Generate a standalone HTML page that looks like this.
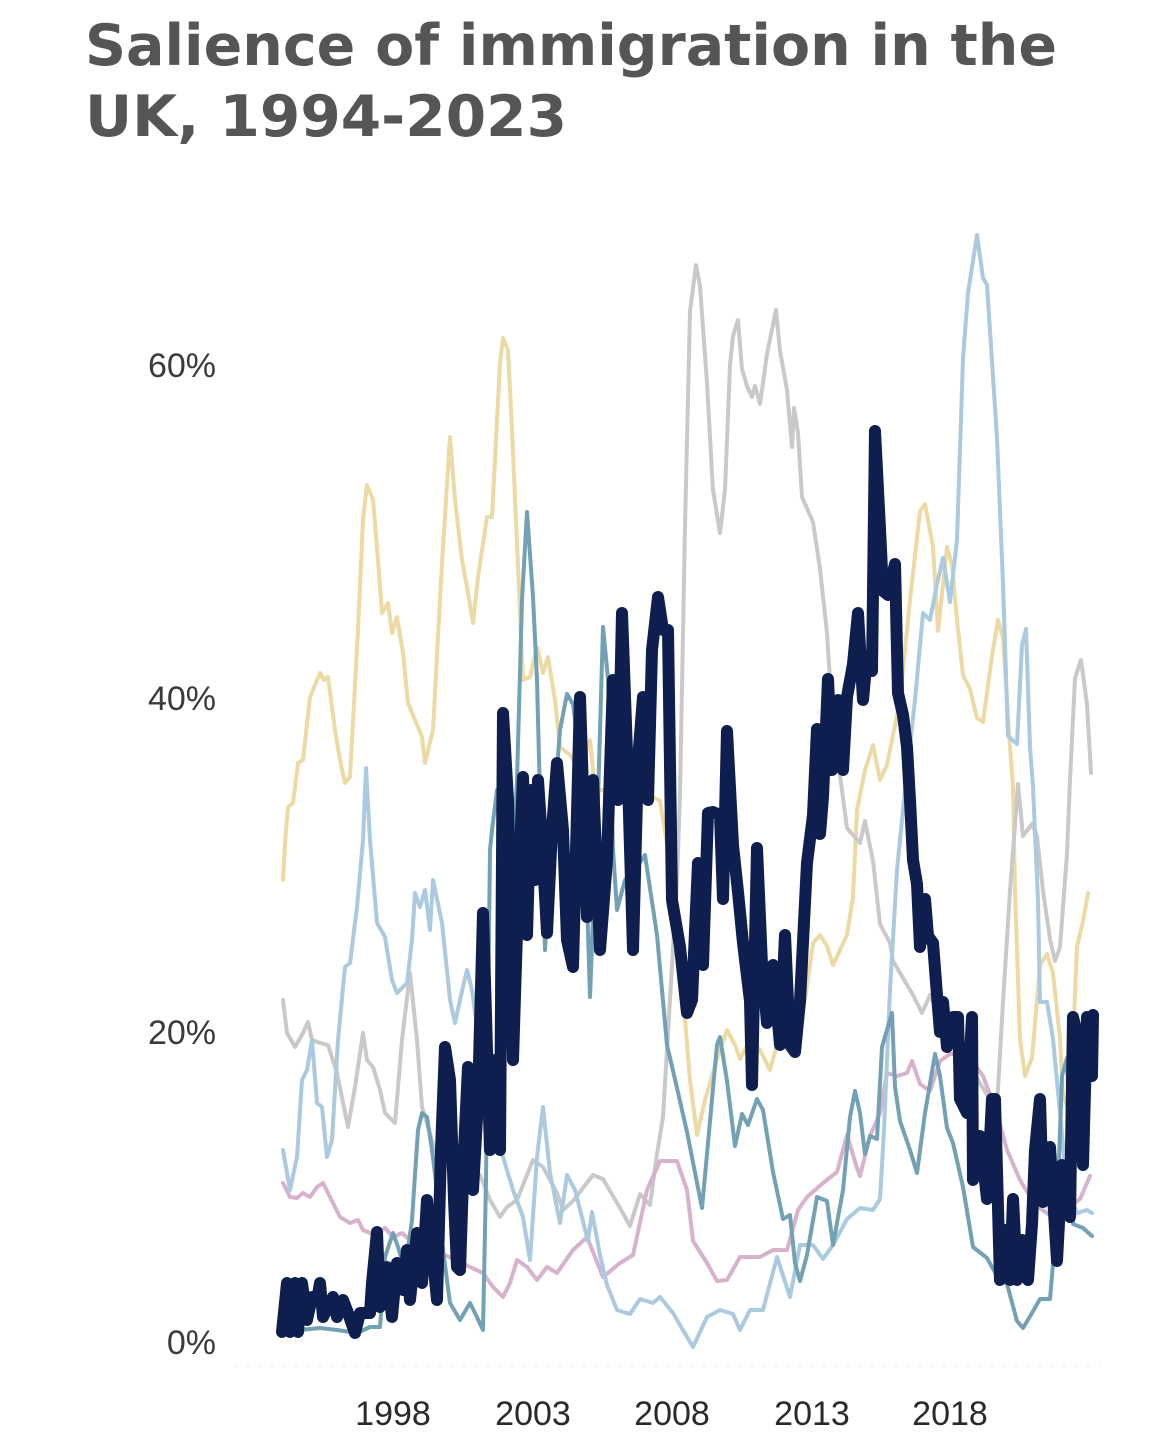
<!DOCTYPE html>
<html>
<head>
<meta charset="utf-8">
<style>
  html, body { margin:0; padding:0; background:#ffffff; }
  body { width:1170px; height:1454px; overflow:hidden; }
  svg { display:block; }
</style>
</head>
<body>
<svg width="1170" height="1454" viewBox="0 0 1170 1454" xmlns="http://www.w3.org/2000/svg">
  <rect width="1170" height="1454" fill="#ffffff"/>
  <!-- Title -->
  <text x="85" y="65" font-family="'DejaVu Sans','Liberation Sans',sans-serif" font-weight="bold" font-size="57" fill="#555555" textLength="972" lengthAdjust="spacingAndGlyphs">Salience of immigration in the</text>
  <text x="85" y="136" font-family="'DejaVu Sans','Liberation Sans',sans-serif" font-weight="bold" font-size="57" fill="#555555" textLength="482" lengthAdjust="spacingAndGlyphs">UK, 1994-2023</text>

  <!-- Y axis labels -->
  <g font-family="'Liberation Sans',sans-serif" font-size="34" fill="#3a3a3a" text-anchor="end">
    <text x="216" y="377">60%</text>
    <text x="216" y="710">40%</text>
    <text x="216" y="1044">20%</text>
    <text x="216" y="1354">0%</text>
  </g>

  <!-- faint x axis -->
  <line x1="235" y1="1366" x2="1100" y2="1366" stroke="#f0f0f0" stroke-width="3" stroke-dasharray="2,10"/>

  <!-- X axis labels -->
  <g font-family="'Liberation Sans',sans-serif" font-size="34" fill="#2a2a2a" text-anchor="middle">
    <text x="393" y="1425">1998</text>
    <text x="533" y="1425">2003</text>
    <text x="672" y="1425">2008</text>
    <text x="812" y="1425">2013</text>
    <text x="950" y="1425">2018</text>
  </g>

  <g fill="none" stroke-linejoin="round" stroke-linecap="round">
    <!-- Gold -->
    <polyline stroke="#ecd9a4" stroke-width="4" points="283,880 285,843 288,807 293,803 298,763 303,760 310,697 315,685 320,673 324,680 328,677 335,730 340,760 345,783 350,777 358,630 363,520 367,485 373,500 378,560 382,613 388,603 392,633 397,617 403,653 408,703 415,720 422,737 425,763 433,730 442,563 450,437 455,500 462,560 467,587 473,623 478,577 487,517 492,517 500,363 503,338 508,350 512,430 517,543 523,680 530,677 537,647 543,673 548,657 555,700 560,747 570,755 580,770 590,740 595,790 610,790 625,780 640,800 653,797 660,801 670,863 680,960 690,1080 697,1135 705,1100 717,1059 727,1030 735,1045 740,1059 750,1040 760,1050 770,1070 777,1045 793,1045 805,1000 813,943 820,935 827,946 833,965 840,950 847,935 853,897 857,810 865,770 873,745 880,780 887,765 900,700 910,600 920,511 925,504 933,547 938,631 947,547 952,565 957,620 963,675 970,689 977,718 983,722 992,656 998,620 1003,638 1010,747 1013,787 1015,891 1020,1039 1025,1076 1032,1058 1040,965 1047,954 1053,973 1060,1039 1063,1095 1070,1113 1077,947 1083,921 1088,893"/>
    <!-- Gray -->
    <polyline stroke="#c9c9c9" stroke-width="4" points="283,1000 287,1033 295,1047 303,1033 308,1022 312,1040 320,1043 328,1045 337,1073 348,1127 355,1087 363,1033 367,1060 373,1067 380,1090 385,1113 395,1123 402,1040 410,973 417,1040 422,1107 435,1150 450,1170 465,1160 480,1175 490,1200 500,1217 507,1207 517,1200 533,1160 543,1167 557,1193 563,1210 573,1201 593,1175 603,1179 620,1208 630,1226 640,1194 650,1205 657,1154 663,1117 670,1000 677,880 680,794 685,526 690,311 696,265 700,286 707,383 713,490 720,533 725,490 730,365 733,336 738,320 742,369 747,386 752,397 755,386 760,404 767,354 776,310 780,351 787,390 792,447 794,408 798,433 802,497 813,522 820,569 827,633 830,679 838,760 847,828 860,843 865,821 873,861 880,924 890,943 893,961 913,995 922,1013 930,995 945,1030 960,1050 975,1075 990,1100 997,1106 1003,1002 1010,891 1018,784 1023,836 1032,824 1037,836 1043,891 1050,939 1055,961 1060,947 1067,854 1070,780 1075,678 1081,660 1087,704 1091,773"/>
    <!-- Pink -->
    <polyline stroke="#d8b1cc" stroke-width="4" points="283,1183 290,1197 297,1198 303,1193 310,1197 317,1187 323,1183 330,1197 340,1217 350,1223 358,1220 363,1230 370,1233 377,1233 385,1228 393,1237 402,1233 410,1240 430,1245 445,1255 460,1262 470,1267 483,1273 493,1287 503,1297 510,1283 517,1260 527,1267 537,1280 547,1267 557,1273 573,1250 587,1237 603,1277 620,1263 633,1255 647,1190 660,1161 677,1161 687,1190 693,1241 707,1263 717,1281 727,1280 740,1257 760,1257 773,1250 787,1250 798,1210 807,1197 823,1183 837,1172 847,1135 857,1168 860,1176 870,1136 880,1113 887,1073 897,1076 907,1073 912,1061 920,1084 930,1091 940,1061 950,1054 967,1054 983,1076 997,1113 1007,1150 1020,1180 1035,1205 1050,1215 1065,1210 1080,1199 1090,1176"/>
    <!-- Light blue -->
    <polyline stroke="#a9cae0" stroke-width="4" points="283,1150 290,1190 297,1157 302,1080 307,1070 312,1040 317,1103 322,1107 327,1157 332,1140 338,1040 345,967 350,963 357,907 363,840 366,768 370,840 377,923 385,937 392,980 397,993 407,983 412,940 415,893 420,907 425,890 430,930 433,880 442,923 450,1000 455,1023 460,1000 467,970 472,990 477,1027 485,1070 495,1110 503,1157 513,1190 523,1217 530,1260 537,1157 543,1107 550,1173 560,1223 567,1175 575,1190 588,1241 592,1212 600,1255 607,1285 617,1310 630,1314 640,1299 653,1303 660,1297 673,1313 693,1347 707,1317 720,1310 733,1314 740,1330 750,1310 763,1310 777,1257 790,1297 800,1245 813,1245 823,1259 833,1245 847,1219 860,1208 873,1210 880,1199 884,1130 890,990 897,870 905,790 915,700 923,613 930,620 937,584 943,558 950,602 957,540 963,358 968,293 977,235 983,278 987,285 997,438 1003,584 1008,736 1017,744 1022,645 1026,629 1030,747 1033,787 1038,900 1040,1002 1047,1002 1053,1039 1060,1113 1067,1187 1077,1213 1087,1210 1092,1213"/>
    <!-- Teal -->
    <polyline stroke="#72a0b5" stroke-width="4" points="283,1330 300,1330 320,1328 337,1330 357,1333 370,1327 380,1327 385,1257 393,1233 398,1247 405,1270 412,1220 418,1130 422,1113 427,1117 432,1150 437,1190 443,1250 450,1303 460,1320 470,1303 475,1313 483,1330 486,1180 490,850 492,830 497,790 503,900 510,920 517,780 522,600 527,512 533,597 537,680 540,797 545,950 550,860 560,730 567,694 573,704 580,760 587,900 590,997 593,917 598,800 603,627 608,679 613,850 617,910 625,880 635,870 645,855 657,935 667,1045 677,1088 687,1132 702,1208 707,1154 717,1045 720,1037 727,1081 735,1146 742,1114 748,1125 757,1099 763,1110 773,1172 783,1219 790,1215 795,1263 800,1281 807,1255 817,1197 827,1201 833,1245 843,1190 850,1117 855,1091 860,1113 865,1154 870,1136 877,1139 882,1047 892,1013 895,1087 900,1121 910,1150 917,1173 925,1113 935,1054 940,1076 947,1128 953,1143 963,1187 973,1247 987,1258 997,1276 1007,1284 1017,1321 1023,1328 1032,1313 1040,1299 1050,1299 1057,1217 1062,1076 1067,1058 1073,1224 1083,1228 1092,1236"/>
    <!-- Navy (thick) -->
    <polyline stroke="#0e1f4f" stroke-width="12" points="282,1332 287,1283 290,1332 295,1283 298,1332 302,1283 307,1320 312,1297 317,1300 320,1283 323,1317 333,1297 337,1317 343,1300 348,1313 355,1333 360,1313 370,1313 372,1283 377,1232 380,1307 387,1267 392,1317 397,1263 403,1290 407,1250 410,1300 417,1233 422,1283 427,1200 432,1250 437,1300 441,1150 445,1047 450,1080 454,1200 457,1267 460,1270 464,1150 468,1067 473,1190 478,1100 483,913 487,1050 490,1150 495,1060 500,1150 503,713 508,800 513,1060 518,900 523,777 527,935 531,790 535,880 538,780 542,840 547,933 552,830 557,763 563,830 567,940 573,967 580,697 587,917 593,780 600,950 607,860 613,680 618,800 622,613 628,780 633,950 638,760 643,697 648,800 652,650 658,597 663,630 668,630 672,900 680,947 687,1013 692,1000 698,863 703,965 708,813 713,812 720,815 723,899 727,731 733,845 738,892 743,943 750,1001 752,1085 757,848 762,965 767,1023 773,965 780,1045 785,935 790,1045 795,1052 800,1001 807,863 813,815 817,729 820,834 823,797 828,679 832,770 838,700 843,770 847,697 853,664 858,613 863,700 867,656 872,671 875,431 880,529 883,591 888,595 895,564 898,693 903,715 907,747 910,800 913,860 917,884 920,947 925,899 928,936 933,943 937,995 940,1032 943,1002 947,1047 953,1017 958,1017 960,1099 967,1113 972,1017 973,1180 980,1136 987,1199 992,1099 995,1099 1000,1280 1005,1230 1010,1280 1013,1199 1017,1280 1022,1240 1028,1280 1032,1224 1035,1150 1040,1099 1043,1202 1050,1147 1057,1261 1062,1165 1070,1217 1073,1017 1078,1039 1083,1165 1087,1017 1092,1076 1093,1015"/>
  </g>
</svg>
</body>
</html>
